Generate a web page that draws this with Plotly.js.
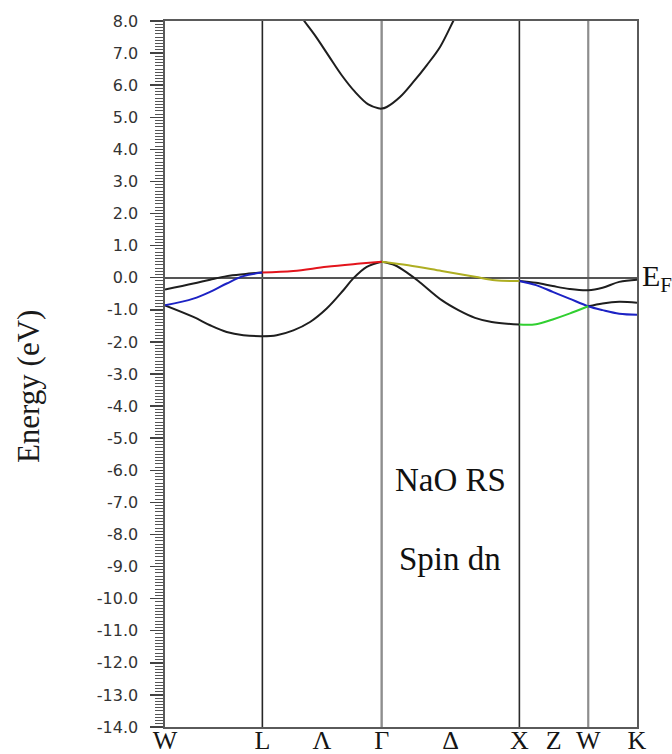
<!DOCTYPE html>
<html>
<head>
<meta charset="utf-8">
<script src="https://cdn.plot.ly/plotly-3.0.1.min.js"></script>
<style>html,body{margin:0;padding:0;background:#fff;}#chart{width:672px;height:754px;}</style>
</head>
<body>
<div id="chart"></div>
<script>
// High-symmetry points (k-path distance, 2π/a units)
const kPoints = [0, 0.707, 1.573, 2.573, 3.073, 3.427];
const kPointNames = ["W", "L", "Γ", "X", "W", "K"];
// x tick labels (points + line labels)
const xTickVals = [0, 0.707, 1.140, 1.573, 2.073, 2.573, 2.823, 3.073, 3.427];
const xTickText = ["W", "L", "Λ", "Γ", "Δ", "X", "Z", "W", "K"];
// y tick labels
const yTickVals = [8, 7, 6, 5, 4, 3, 2, 1, 0, -1, -2, -3, -4, -5, -6, -7, -8, -9, -10, -11, -12, -13, -14];
const yTickText = ["8.0", "7.0", "6.0", "5.0", "4.0", "3.0", "2.0", "1.0", "0.0", "-1.0", "-2.0", "-3.0", "-4.0", "-5.0", "-6.0", "-7.0", "-8.0", "-9.0", "-10.0", "-11.0", "-12.0", "-13.0", "-14.0"];

// Conduction band (black)
const kCond = [0.97, 1.011, 1.089, 1.186, 1.283, 1.380, 1.476, 1.549, 1.573, 1.610, 1.706, 1.803, 1.900, 1.997, 2.093, 2.12];
const eCond = [8.25, 8.0, 7.55, 6.93, 6.31, 5.79, 5.40, 5.28, 5.27, 5.32, 5.63, 6.10, 6.62, 7.19, 8.0, 8.23];

// Lower valence band, W -> L -> Γ (black)
const kLowWG = [0, 0.206, 0.327, 0.448, 0.569, 0.707, 0.811, 0.932, 1.053, 1.174, 1.295, 1.367, 1.465, 1.573];
const eLowWG = [-0.86, -1.22, -1.48, -1.69, -1.79, -1.82, -1.79, -1.64, -1.38, -0.96, -0.39, -0.02, 0.34, 0.50];
// Lower valence band, Γ -> X (black)
const kLowGX = [1.573, 1.670, 1.767, 1.839, 2.009, 2.130, 2.251, 2.372, 2.573];
const eLowGX = [0.50, 0.39, 0.13, -0.10, -0.70, -1.01, -1.25, -1.38, -1.46];
// Lower valence band, X -> W (green)
const kLowXW = [2.573, 2.694, 2.815, 2.936, 3.073];
const eLowXW = [-1.46, -1.45, -1.30, -1.12, -0.89];
// Lower valence band, W -> K (black)
const kLowWK = [3.073, 3.177, 3.298, 3.427];
const eLowWK = [-0.89, -0.80, -0.75, -0.78];

// Upper valence band A, W -> L (black)
const kUpAWL = [0, 0.206, 0.327, 0.448, 0.569, 0.707];
const eUpAWL = [-0.37, -0.18, -0.06, 0.05, 0.11, 0.16];
// Upper valence band B, W -> L (blue)
const kUpBWL = [0, 0.206, 0.327, 0.448, 0.569, 0.707];
const eUpBWL = [-0.86, -0.65, -0.44, -0.18, 0.05, 0.16];
// Degenerate pair, L -> Γ (red)
const kUpLG = [0.707, 0.932, 1.174, 1.416, 1.573];
const eUpLG = [0.16, 0.21, 0.34, 0.44, 0.50];
// Degenerate pair, Γ -> X (olive)
const kUpGX = [1.573, 1.767, 2.009, 2.251, 2.396, 2.573];
const eUpGX = [0.50, 0.39, 0.21, 0.03, -0.08, -0.10];
// Upper valence band A, X -> W -> K (black)
const kUpAXK = [2.573, 2.694, 2.815, 2.936, 3.073, 3.177, 3.298, 3.427];
const eUpAXK = [-0.10, -0.16, -0.26, -0.35, -0.39, -0.31, -0.13, -0.06];
// Upper valence band B, X -> W -> K (blue)
const kUpBXK = [2.573, 2.694, 2.815, 2.936, 3.073, 3.177, 3.298, 3.427];
const eUpBXK = [-0.10, -0.23, -0.44, -0.65, -0.89, -1.01, -1.12, -1.15];

const COL = {black: "#1e1e1e", blue: "#1c22c4", red: "#e3141c", olive: "#aeae22", green: "#30cf30"};
function seg(k, e, color) {
  return {x: k, y: e, type: "scatter", mode: "lines", hoverinfo: "skip", showlegend: false,
          line: {color: color, width: 2, shape: "spline", smoothing: 1}};
}

const traces = [
  seg(kCond, eCond, COL.black),
  seg(kLowWG, eLowWG, COL.black),
  seg(kLowGX, eLowGX, COL.black),
  seg(kLowWK, eLowWK, COL.black),
  seg(kUpAWL, eUpAWL, COL.black),
  seg(kUpAXK, eUpAXK, COL.black),
  seg(kUpBWL, eUpBWL, COL.blue),
  seg(kUpBXK, eUpBXK, COL.blue),
  seg(kLowXW, eLowXW, COL.green),
  seg(kUpGX, eUpGX, COL.olive),
  seg(kUpLG, eUpLG, COL.red)
];

// vertical lines at interior high-symmetry points
const vStyle = {"L": ["#262626", 1.6], "Γ": ["#8e8e8e", 2.4], "X": ["#2a2a2a", 1.6], "W": ["#8e8e8e", 2.2]};
const shapes = [];
for (let i = 1; i < kPoints.length - 1; i++) {
  const st = vStyle[kPointNames[i]];
  shapes.push({type: "line", xref: "x", yref: "paper", x0: kPoints[i], x1: kPoints[i], y0: 0, y1: 1,
               layer: "below", line: {color: st[0], width: st[1]}});
}

const serif = "Liberation Serif, Times New Roman, serif";
const layout = {
  width: 672, height: 754,
  margin: {l: 165, r: 35, t: 21, b: 27},
  paper_bgcolor: "#ffffff", plot_bgcolor: "#ffffff",
  showlegend: false,
  xaxis: {
    range: [kPoints[0], kPoints[kPoints.length - 1]],
    tickmode: "array", tickvals: xTickVals, ticktext: xTickText,
    ticks: "", showgrid: false, zeroline: false,
    showline: true, mirror: true, linecolor: "#5a5a5a", linewidth: 1.6,
    tickfont: {family: serif, size: 26, color: "#151515"},
    ticklabelstandoff: -11
  },
  yaxis: {
    range: [-14, 8],
    tickmode: "array", tickvals: yTickVals, ticktext: yTickText,
    ticks: "outside", ticklen: 13, tickwidth: 1.5, tickcolor: "#444",
    minor: {tickmode: "linear", tick0: 0, dtick: 0.1, ticks: "outside", ticklen: 8, tickwidth: 1, tickcolor: "#555"},
    showgrid: false,
    zeroline: true, zerolinecolor: "#555", zerolinewidth: 1.6,
    showline: true, mirror: true, linecolor: "#5a5a5a", linewidth: 1.6,
    tickfont: {family: "DejaVu Sans, Verdana, sans-serif", size: 16, color: "#333"},
    ticklabelstandoff: 9
  },
  shapes: shapes,
  annotations: [
    {text: "Energy (eV)", xref: "paper", yref: "paper", x: -0.29, y: 0.483, textangle: -90,
     showarrow: false, xanchor: "center", yanchor: "middle", font: {family: serif, size: 31, color: "#1a1a1a"}},
    {text: "NaO RS", xref: "x", yref: "y", x: 1.656, y: -6.3, showarrow: false, xanchor: "left", yanchor: "middle",
     font: {family: serif, size: 33, color: "#111"}},
    {text: "Spin dn", xref: "x", yref: "y", x: 1.682, y: -8.75, showarrow: false, xanchor: "left", yanchor: "middle",
     font: {family: serif, size: 33, color: "#111"}},
    {text: "E<sub>F</sub>", xref: "paper", yref: "y", x: 1, y: 0, xshift: 3, showarrow: false, xanchor: "left", yanchor: "middle",
     font: {family: serif, size: 30, color: "#111"}}
  ]
};

Plotly.newPlot("chart", traces, layout, {staticPlot: true, displayModeBar: false});
</script>
</body>
</html>
